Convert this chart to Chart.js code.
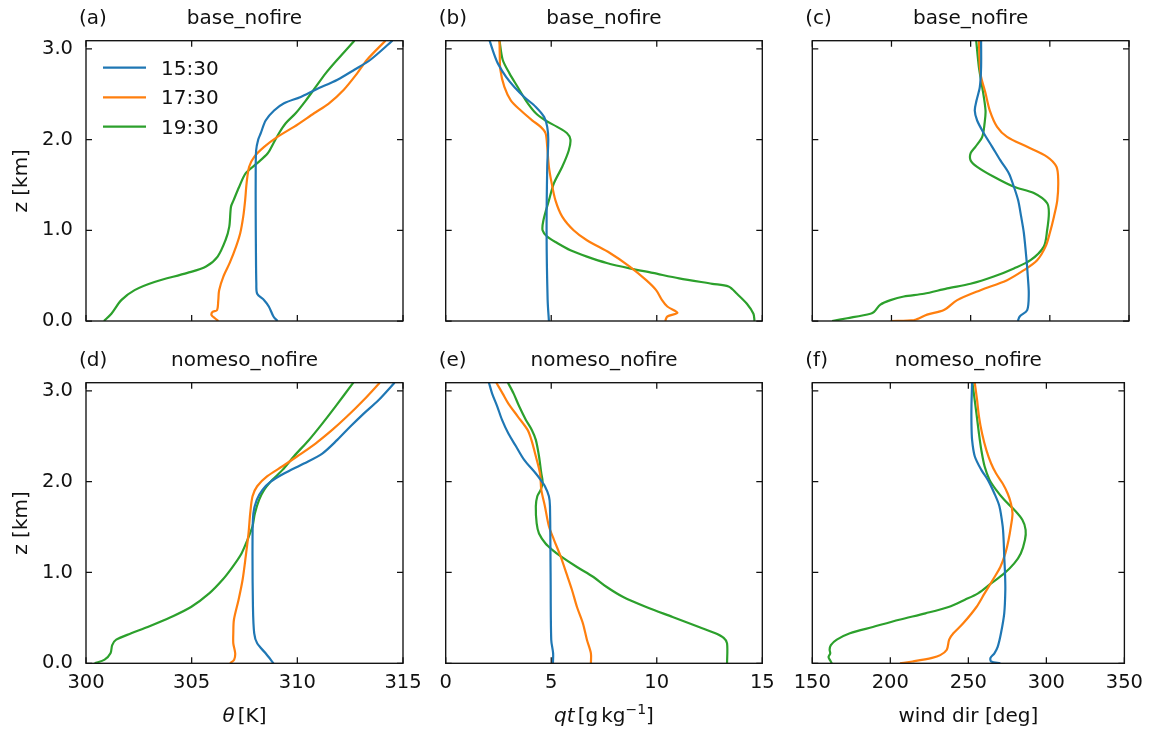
<!DOCTYPE html>
<html><head><meta charset="utf-8">
<script src="https://cdn.jsdelivr.net/npm/chart.js@4.4.0/dist/chart.umd.min.js"></script>
<style>
html,body{margin:0;padding:0;background:#fff;}
#fig{position:relative;width:1151px;height:731px;overflow:hidden;background:#fff;}
#fig canvas{position:absolute;left:0;top:0;}
</style></head><body><div id="fig"></div>
<script>
// ---------- labels / ticks ----------
const timeLabels = ['15:30', '17:30', '19:30'];
const panelLetters = ['(a)', '(b)', '(c)', '(d)', '(e)', '(f)'];
const panelTitles = ['base_nofire', 'base_nofire', 'base_nofire', 'nomeso_nofire', 'nomeso_nofire', 'nomeso_nofire'];
const zTicks = [0, 1, 2, 3];
const thetaTicks = [300, 305, 310, 315];
const qtTicks = [0, 5, 10, 15];
const wdTicks = [150, 200, 250, 300, 350];

// ---------- (a) theta, base_nofire ----------
const a15z = [0, 0.05, 0.16, 0.23, 0.30, 0.41, 0.8, 1.2, 1.6, 1.88, 2.0, 2.07, 2.21, 2.32, 2.40, 2.47, 2.55, 2.66, 2.77, 2.88, 3.09];
const a15v = [309.06, 308.87, 308.65, 308.43, 308.10, 308.06, 308.04, 308.03, 308.03, 308.05, 308.15, 308.27, 308.5, 308.9, 309.37, 310.16, 310.86, 311.9, 312.7, 313.46, 314.5];
const a17z = [0, 0.03, 0.065, 0.10, 0.12, 0.23, 0.34, 0.49, 0.64, 0.82, 0.97, 1.15, 1.33, 1.52, 1.70, 1.81, 1.92, 2.03, 2.14, 2.29, 2.40, 2.55, 2.73, 2.88, 3.09];
const a17v = [306.26, 306.1, 305.94, 305.99, 306.2, 306.26, 306.3, 306.5, 306.8, 307.1, 307.3, 307.44, 307.53, 307.6, 307.72, 307.96, 308.43, 309.06, 309.84, 310.79, 311.5, 312.2, 312.83, 313.3, 314.17];
const a19z = [0, 0.08, 0.23, 0.34, 0.43, 0.53, 0.60, 0.71, 0.89, 1.04, 1.26, 1.33, 1.48, 1.63, 1.74, 1.85, 1.96, 2.07, 2.18, 2.29, 2.43, 2.58, 2.73, 2.88, 3.09];
const a19v = [300.85, 301.2, 301.67, 302.3, 303.24, 304.8, 305.68, 306.23, 306.6, 306.78, 306.86, 306.98, 307.25, 307.56, 308.1, 308.6, 308.87, 309.13, 309.45, 309.92, 310.4, 310.87, 311.34, 311.89, 312.7];

// ---------- (b) qt, base_nofire ----------
const b15z = [0, 0.23, 0.97, 1.70, 2.0, 2.14, 2.25, 2.36, 2.47, 2.58, 2.69, 2.84, 2.95, 3.09];
const b15v = [4.89, 4.83, 4.78, 4.81, 4.86, 4.81, 4.66, 4.27, 3.72, 3.25, 2.86, 2.47, 2.28, 2.08];
const b17z = [0, 0.05, 0.09, 0.16, 0.23, 0.34, 0.45, 0.60, 0.75, 0.89, 1.0, 1.15, 1.33, 1.52, 1.70, 1.92, 2.07, 2.14, 2.21, 2.32, 2.43, 2.58, 2.77, 2.95, 3.09];
const b17v = [10.4, 10.5, 10.98, 10.5, 10.25, 9.97, 9.5, 8.72, 7.78, 6.69, 6.06, 5.52, 5.2, 5.02, 4.89, 4.81, 4.73, 4.5, 4.11, 3.56, 3.09, 2.78, 2.59, 2.56, 2.55];
const b19z = [0, 0.08, 0.19, 0.30, 0.38, 0.41, 0.47, 0.53, 0.58, 0.64, 0.71, 0.78, 0.86, 0.93, 1.0, 1.11, 1.33, 1.52, 1.70, 1.88, 2.0, 2.07, 2.14, 2.21, 2.29, 2.43, 2.58, 2.73, 2.88, 3.09];
const b19v = [14.63, 14.58, 14.27, 13.8, 13.4, 12.63, 11.06, 9.81, 8.72, 7.63, 6.69, 5.91, 5.28, 4.81, 4.59, 4.63, 4.89, 5.13, 5.52, 5.83, 5.91, 5.75, 5.28, 4.73, 4.27, 3.8, 3.41, 3.02, 2.7, 2.55];

// ---------- (c) wind dir, base_nofire ----------
const c15z = [0, 0.05, 0.12, 0.30, 0.49, 0.67, 0.97, 1.15, 1.33, 1.48, 1.63, 1.77, 1.92, 2.07, 2.21, 2.32, 2.43, 2.58, 2.80, 3.09];
const c15v = [279.8, 281, 285.7, 286.7, 286.1, 285.3, 283.6, 281.9, 280, 277.3, 274.1, 268.8, 263.6, 258.3, 254.1, 252.6, 253.7, 255.8, 256.6, 256.6];
const c17z = [0, 0.01, 0.07, 0.12, 0.23, 0.34, 0.45, 0.56, 0.67, 0.82, 0.97, 1.15, 1.33, 1.55, 1.70, 1.81, 1.92, 2.03, 2.14, 2.32, 2.51, 2.73, 3.09];
const c17v = [199.4, 214.2, 222.5, 233.1, 241.5, 256.2, 273, 283.6, 292, 297.3, 300, 302.6, 304.7, 305.3, 304.2, 298.3, 285.7, 273, 266.7, 262.1, 259.4, 256.2, 255.2];
const c19z = [0, 0.03, 0.08, 0.10, 0.18, 0.23, 0.27, 0.30, 0.36, 0.41, 0.49, 0.58, 0.67, 0.82, 1.0, 1.19, 1.30, 1.41, 1.48, 1.59, 1.70, 1.77, 1.85, 1.92, 2.03, 2.18, 2.32, 2.58, 2.80, 3.09];
const c19v = [162.5, 172, 186.7, 189, 193, 199.4, 207.8, 220.5, 235.2, 249.9, 264.6, 277.3, 287.8, 296.2, 298.3, 299.4, 298.3, 289.9, 277.3, 264.6, 254.1, 250, 250, 253, 257.3, 258.8, 259.4, 257.3, 255.2, 253.5];

// ---------- (d) theta, nomeso_nofire ----------
const d15z = [0, 0.11, 0.22, 0.33, 0.62, 1.36, 1.65, 1.80, 1.91, 2.0, 2.09, 2.20, 2.31, 2.46, 2.61, 2.75, 2.90, 3.09];
const d15v = [308.87, 308.5, 308.1, 307.96, 307.9, 307.88, 307.92, 308.08, 308.35, 308.74, 309.37, 310.31, 311.18, 311.89, 312.52, 313.14, 313.85, 314.6];
const d17z = [0, 0.04, 0.11, 0.22, 0.33, 0.48, 0.70, 0.92, 1.18, 1.43, 1.65, 1.84, 1.95, 2.06, 2.17, 2.28, 2.42, 2.57, 2.72, 2.90, 3.09];
const d17v = [306.82, 307.01, 307.06, 306.97, 306.97, 307.0, 307.22, 307.41, 307.56, 307.69, 307.77, 307.88, 308.1, 308.58, 309.3, 310.0, 310.86, 311.65, 312.36, 313.14, 313.9];
const d19z = [0, 0.04, 0.11, 0.20, 0.26, 0.33, 0.40, 0.51, 0.62, 0.77, 0.92, 1.06, 1.21, 1.36, 1.51, 1.65, 1.80, 1.91, 2.02, 2.13, 2.28, 2.46, 2.64, 2.83, 3.09];
const d19v = [300.41, 300.88, 301.16, 301.24, 301.43, 302.14, 302.92, 304.03, 304.97, 305.83, 306.46, 306.93, 307.36, 307.64, 307.88, 307.99, 308.19, 308.43, 308.82, 309.3, 309.84, 310.55, 311.18, 311.81, 312.65];

// ---------- (e) qt, nomeso_nofire ----------
const e15z = [0, 0.11, 0.26, 0.99, 1.73, 1.84, 1.95, 2.02, 2.09, 2.24, 2.39, 2.53, 2.68, 2.83, 2.97, 3.09];
const e15v = [5.08, 5.09, 5.0, 4.97, 4.94, 4.89, 4.7, 4.5, 4.27, 3.72, 3.33, 2.97, 2.67, 2.44, 2.2, 2.05];
const e17z = [0, 0.11, 0.26, 0.44, 0.62, 0.81, 0.99, 1.18, 1.36, 1.51, 1.73, 1.91, 2.09, 2.28, 2.46, 2.57, 2.72, 2.86, 2.97, 3.09];
const e17v = [6.88, 6.88, 6.69, 6.5, 6.22, 5.98, 5.72, 5.44, 5.13, 4.89, 4.7, 4.53, 4.47, 4.27, 4.06, 3.88, 3.41, 2.97, 2.7, 2.4];
const e19z = [0, 0.22, 0.28, 0.33, 0.40, 0.51, 0.62, 0.73, 0.84, 0.95, 1.06, 1.18, 1.25, 1.32, 1.43, 1.54, 1.73, 1.84, 1.91, 2.0, 2.09, 2.28, 2.46, 2.57, 2.68, 2.83, 2.97, 3.09];
const e19v = [13.33, 13.33, 13.17, 12.78, 12.0, 10.75, 9.5, 8.41, 7.63, 7.0, 6.22, 5.44, 5.05, 4.73, 4.42, 4.31, 4.27, 4.34, 4.5, 4.59, 4.53, 4.42, 4.27, 4.08, 3.8, 3.48, 3.22, 2.95];

// ---------- (f) wind dir, nomeso_nofire ----------
const f15z = [0, 0.02, 0.06, 0.11, 0.18, 0.33, 0.55, 0.81, 0.99, 1.18, 1.36, 1.51, 1.73, 1.87, 2.02, 2.13, 2.28, 2.46, 2.64, 2.83, 3.09];
const f15v = [270.5, 264.6, 264.2, 266.7, 268.8, 270.9, 273, 273.7, 273.5, 273, 272.6, 272, 269.9, 266.7, 262.5, 258.3, 254.1, 252.4, 252, 252, 252.4];
const f17z = [0, 0.02, 0.06, 0.09, 0.15, 0.26, 0.33, 0.44, 0.62, 0.77, 0.92, 1.06, 1.21, 1.36, 1.51, 1.65, 1.76, 1.87, 1.98, 2.09, 2.20, 2.35, 2.53, 2.72, 2.90, 3.09];
const f17v = [206.2, 214.2, 226.8, 232, 236.2, 237.7, 240.4, 246.7, 255.2, 260.4, 265.7, 270.5, 273.7, 275.8, 277.3, 278.3, 277.3, 275.2, 272, 267.8, 264.6, 261.5, 258.8, 256.8, 255.6, 254.1];
const f19z = [0, 0.03, 0.07, 0.11, 0.15, 0.20, 0.26, 0.33, 0.40, 0.48, 0.55, 0.62, 0.70, 0.77, 0.88, 0.99, 1.10, 1.21, 1.36, 1.47, 1.58, 1.69, 1.80, 1.91, 2.02, 2.17, 2.35, 2.53, 2.75, 3.09];
const f19v = [162.5, 161.5, 160.4, 161.5, 161.1, 161.9, 165.7, 174.1, 188.8, 205.7, 222.5, 237.3, 247.8, 256.2, 264.6, 273, 279.4, 283.6, 286.3, 286.7, 284.6, 279.4, 273, 267.8, 263.6, 260.4, 258.3, 256.8, 255.2, 252.6];

// ---------- styling / layout ----------
const colors = ['#1f77b4', '#ff7f0e', '#2ca02c'];
const FONT = '"DejaVu Sans", "Liberation Sans", sans-serif';
const INK = '#111111';
const W = 1151, H = 731;
const YW = 60, XH = 30;
const colX = [[86, 403], [445.7, 762.3], [812.3, 1129]];
const rowY = [[40.7, 321], [382.7, 663.3]];

const panels = [
  {col:0,row:0,range:[300,315],xt:thetaTicks,xl:null,  series:[[a15z,a15v],[a17z,a17v],[a19z,a19v]]},
  {col:1,row:0,range:[0,15],   xt:qtTicks,   xl:null,  series:[[b15z,b15v],[b17z,b17v],[b19z,b19v]]},
  {col:2,row:0,range:[150,350],xt:wdTicks,   xl:null,  series:[[c15z,c15v],[c17z,c17v],[c19z,c19v]]},
  {col:0,row:1,range:[300,315],xt:thetaTicks,xl:'theta',series:[[d15z,d15v],[d17z,d17v],[d19z,d19v]]},
  {col:1,row:1,range:[0,15],   xt:qtTicks,   xl:'qt',  series:[[e15z,e15v],[e17z,e17v],[e19z,e19v]]},
  {col:2,row:1,range:[150,350],xt:wdTicks,   xl:'wd',  series:[[f15z,f15v],[f17z,f17v],[f19z,f19v]]}
];

function drawRich(ctx, parts, cx, by) {
  let w = 0;
  parts.forEach(p => { ctx.font = p.font; w += ctx.measureText(p.text).width + (p.gap || 0); });
  let x = cx - w / 2;
  ctx.textAlign = 'left';
  parts.forEach(p => { ctx.font = p.font; ctx.fillText(p.text, x, by + (p.dy || 0)); x += ctx.measureText(p.text).width + (p.gap || 0); });
}

function makeDeco(p) {
  return {
    id: 'deco' + p.idx,
    afterDraw(chart) {
      const ctx = chart.ctx, a = chart.chartArea;
      const xs = chart.scales.x, ys = chart.scales.y;
      ctx.save();
      ctx.strokeStyle = INK; ctx.lineWidth = 1.25;
      const L = 6;
      ctx.beginPath();
      p.xt.forEach(v => {
        const px = xs.getPixelForValue(v);
        ctx.moveTo(px, a.bottom); ctx.lineTo(px, a.bottom - L);
        ctx.moveTo(px, a.top); ctx.lineTo(px, a.top + L);
      });
      zTicks.forEach(v => {
        const py = ys.getPixelForValue(v);
        ctx.moveTo(a.left, py); ctx.lineTo(a.left + L, py);
        ctx.moveTo(a.right, py); ctx.lineTo(a.right - L, py);
      });
      ctx.stroke();
      ctx.lineWidth = 1.35;
      ctx.strokeRect(a.left, a.top, a.right - a.left, a.bottom - a.top);

      ctx.fillStyle = INK;
      const f20 = '20px ' + FONT;
      const fi20 = 'italic 20px ' + FONT;
      const tb = a.top - 16.7;
      ctx.font = f20; ctx.textBaseline = 'alphabetic';
      ctx.textAlign = 'left';
      ctx.fillText(panelLetters[p.idx], a.left - 7, tb);
      ctx.textAlign = 'center';
      ctx.fillText(panelTitles[p.idx], (a.left + a.right) / 2, tb);

      if (p.col === 0) {
        ctx.save();
        ctx.translate(27, (a.top + a.bottom) / 2);
        ctx.rotate(-Math.PI / 2);
        ctx.textAlign = 'center';
        ctx.font = f20;
        ctx.fillText('z [km]', 0, 0);
        ctx.restore();
      }
      const xb = 722;
      const cx = (a.left + a.right) / 2;
      if (p.xl === 'theta') {
        drawRich(ctx, [{text:'\u03b8', font:fi20, gap:3}, {text:'[K]', font:f20}], cx, xb);
      } else if (p.xl === 'qt') {
        drawRich(ctx, [{text:'qt', font:fi20, gap:3}, {text:'[g', font:f20, gap:3}, {text:'kg', font:f20},
                       {text:'\u22121', font:'14px ' + FONT, dy:-8}, {text:']', font:f20}], cx, xb);
      } else if (p.xl === 'wd') {
        drawRich(ctx, [{text:'wind dir [deg]', font:f20}], cx, xb);
      }
      if (p.idx === 0) {
        const rows = [67.7, 97.3, 126.7];
        chart.data.datasets.forEach((d, k) => {
          ctx.strokeStyle = d.borderColor; ctx.lineWidth = 2.2;
          ctx.beginPath(); ctx.moveTo(103, rows[k]); ctx.lineTo(146, rows[k]); ctx.stroke();
          ctx.fillStyle = INK; ctx.font = f20; ctx.textAlign = 'left';
          ctx.fillText(d.label, 161, rows[k] + 7);
        });
      }
      ctx.restore();
    }
  };
}

const fig = document.getElementById('fig');
panels.forEach((p, i) => {
  p.idx = i;
  const [l, r] = colX[p.col];
  const [t, b] = rowY[p.row];
  const cv = document.createElement('canvas');
  cv.width = W; cv.height = H;
  cv.style.width = W + 'px'; cv.style.height = H + 'px';
  fig.appendChild(cv);
  const showX = p.row === 1, showY = p.col === 0;
  new Chart(cv, {
    type: 'line',
    data: {
      datasets: p.series.map((s, k) => ({
        label: timeLabels[k],
        data: s[0].map((z, j) => ({x: s[1][j], y: z})),
        borderColor: colors[k], backgroundColor: colors[k],
        borderWidth: 2.2, pointRadius: 0, tension: 0.3, fill: false
      }))
    },
    options: {
      responsive: false, animation: false, devicePixelRatio: 1, events: [],
      layout: {padding: {left: l - YW, top: t, right: W - r, bottom: H - b - XH}},
      plugins: {legend: {display: false}, tooltip: {enabled: false}, title: {display: false}},
      scales: {
        x: {
          type: 'linear', position: 'bottom', min: p.range[0], max: p.range[1],
          afterBuildTicks: s => { s.ticks = p.xt.map(v => ({value: v})); },
          afterFit: s => { s.height = XH; },
          grid: {display: false, drawTicks: false}, border: {display: false},
          ticks: {display: showX, padding: 8, autoSkip: false, maxRotation: 0, color: INK,
                  font: {family: FONT, size: 19.5}, callback: v => String(v)}
        },
        y: {
          type: 'linear', position: 'left', min: 0, max: 3.09,
          afterBuildTicks: s => { s.ticks = zTicks.map(v => ({value: v})); },
          afterFit: s => { s.width = YW; },
          grid: {display: false, drawTicks: false}, border: {display: false},
          ticks: {display: showY, padding: 13, autoSkip: false, color: INK,
                  font: {family: FONT, size: 19.5}, callback: v => Number(v).toFixed(1)}
        }
      }
    },
    plugins: [makeDeco(p)]
  });
});
</script>
</body></html>
